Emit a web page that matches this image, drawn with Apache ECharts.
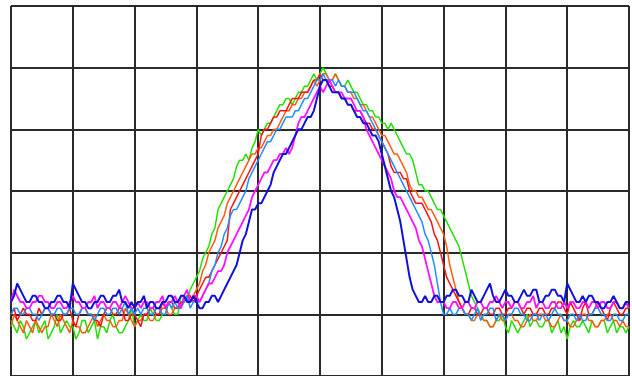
<!DOCTYPE html>
<html>
<head>
<meta charset="utf-8">
<script src="https://cdn.jsdelivr.net/npm/echarts@6/dist/echarts.min.js"></script>
<style>html,body{margin:0;padding:0;background:#fff;}#c{width:632px;height:376px;}</style>
</head>
<body>
<div id="c"></div>
<script>
// x positions: 0..100 in steps of 0.5 (10 divisions), y values: 0..60 (6 divisions)
const xs = Array.from({length: 201}, (_, i) => i * 0.5);
const green = [
9,8,7,9,8,6,7,8,9,7,8,9,6,7,8,10,7,8,9,8,
8,6,7,9,9,7,8,9,6,8,8,7,9,10,8,7,7,8,9,11,
8,9,10,9,9,11,10,9,9,10,10,12,11,10,10,13,13,12,14,15,
16,17,19,20,21,23,24,27,28,29,30,31,32,34,35,35,36,35,37,38,
40,39,40,41,41,42,43,44,44,45,45,44,45,46,46,47,47,48,49,48,
49,50,49,48,48,49,48,47,47,48,47,46,46,45,44,44,43,43,42,42,
41,41,40,41,40,39,38,37,36,36,35,33,31,31,30,30,29,28,27,27,
26,25,24,23,22,21,19,17,15,13,12,11,10,9,9,8,8,9,9,10,
8,7,9,8,7,8,9,10,8,9,9,8,8,9,9,7,8,9,7,8,
6,8,9,8,8,9,8,7,9,8,8,9,9,7,8,9,7,8,8,7,8];
const orange = [
8,10,9,8,7,9,8,7,9,8,7,8,8,10,9,8,10,9,8,7,
9,8,8,7,7,8,9,10,8,9,10,9,9,8,8,9,9,11,10,9,
8,9,9,10,10,9,9,10,10,11,11,10,10,11,11,12,12,13,12,13,
14,15,17,18,20,21,22,24,25,26,28,29,30,31,32,33,34,35,36,36,
37,37,38,39,39,40,40,41,42,43,43,44,44,45,45,46,46,47,48,47,
48,49,49,48,48,49,48,47,47,46,46,45,45,44,44,43,42,42,41,40,
39,39,38,37,36,36,35,34,33,31,30,30,29,29,28,27,27,26,25,24,
23,21,18,16,14,12,11,10,10,9,9,10,10,9,9,8,8,9,10,9,
9,10,10,9,9,8,8,9,10,9,9,10,10,9,9,8,8,9,10,9,
9,8,8,9,9,10,10,9,9,8,8,9,9,10,10,9,9,8,9,8,8];
const red = [
10,11,9,10,11,10,10,9,9,11,10,11,11,10,10,9,9,10,10,11,
9,8,10,11,11,10,10,9,9,8,10,11,11,10,10,11,11,9,9,10,
10,9,8,10,10,11,11,10,10,12,11,12,12,11,11,12,12,13,13,12,
13,14,15,16,16,17,18,19,20,21,22,27,28,29,30,31,32,33,34,35,
36,39,40,40,41,42,42,43,43,43,44,45,45,45,46,46,46,47,48,48,
49,48,48,47,47,46,46,45,45,44,44,43,43,43,42,41,41,40,40,39,
38,37,36,34,33,33,33,32,32,30,29,28,28,28,27,26,25,23,22,20,
18,16,15,14,13,12,11,10,10,11,11,10,10,11,11,10,10,11,11,10,
10,11,11,12,12,11,10,11,11,10,10,11,11,10,10,11,11,12,12,11,
10,12,11,10,9,11,12,10,10,11,12,11,10,9,11,12,11,10,10,11,11];
const dodger = [
10,11,11,10,10,11,11,10,10,9,10,11,11,10,10,11,11,10,10,11,
11,10,10,11,11,10,10,9,10,11,11,10,10,11,11,10,11,12,10,11,
10,11,10,11,11,10,10,11,11,10,10,12,11,12,11,11,12,13,11,12,
12,12,13,14,15,17,18,20,21,23,24,26,27,27,28,29,30,32,33,34,
35,36,37,38,38,39,40,40,41,42,42,42,43,43,44,45,45,46,47,48,
48,49,48,48,48,47,48,47,47,46,46,46,45,44,43,43,42,41,40,39,
38,37,36,35,34,33,32,31,30,29,28,27,26,25,23,22,20,18,15,12,
10,10,11,10,10,11,11,10,10,9,10,11,9,10,10,11,11,9,10,10,
9,10,10,11,11,10,10,9,9,10,10,9,10,10,9,10,11,10,10,9,
9,10,10,9,10,9,9,10,10,11,11,10,10,9,9,10,10,9,9,10,10];
const magenta = [
12,14,13,12,12,11,11,12,12,13,13,12,12,11,11,12,12,11,11,12,
13,12,12,11,11,12,12,13,11,12,12,11,11,12,12,11,12,13,12,11,
11,12,11,12,12,11,11,12,12,13,11,12,12,13,12,11,13,14,12,13,
13,12,13,14,15,15,16,17,17,18,20,21,22,23,24,25,26,27,29,30,
31,32,33,33,34,35,35,36,36,37,36,37,39,41,42,42,43,44,45,46,
47,46,47,48,47,46,46,46,45,45,45,44,43,43,42,40,39,38,37,36,
35,34,33,32,30,29,29,28,27,26,25,24,22,21,19,17,15,13,12,12,
12,11,11,12,12,11,11,12,12,11,11,12,12,11,11,12,12,13,12,11,
12,12,11,12,12,11,11,12,12,13,11,12,12,11,11,12,12,11,11,12,
11,12,12,11,11,12,12,11,12,12,11,12,12,11,11,12,12,11,11,12,11];
const blue = [
12,13,15,14,13,12,12,13,13,12,12,11,11,12,12,13,13,12,12,11,
15,14,13,12,12,11,11,12,12,13,13,12,12,13,13,14,12,12,11,12,
11,12,12,13,11,12,12,11,11,12,12,13,13,12,12,13,13,12,12,13,
12,11,11,12,12,13,13,12,13,14,15,16,17,18,20,22,23,25,27,27,
28,28,29,30,31,33,34,35,36,36,37,38,39,40,40,41,42,42,43,45,
47,48,48,47,46,46,46,45,45,44,44,43,42,42,41,41,40,39,39,38,
36,34,32,30,29,27,25,22,19,16,14,13,12,12,13,12,12,13,13,12,
12,13,13,14,14,13,13,12,12,14,13,12,12,13,14,15,13,12,12,13,
14,13,13,12,12,13,14,13,13,14,14,12,12,13,13,14,14,13,13,12,
15,14,13,12,12,13,12,13,13,12,12,11,11,12,12,13,12,11,11,12,12];

const seriesDefs = [
  {name: 'green', data: green, color: '#22e000', width: 1.5},
  {name: 'orange', data: orange, color: '#ff5a10', width: 1.5},
  {name: 'red', data: red, color: '#ff1010', width: 1.5},
  {name: 'dodger', data: dodger, color: '#1e8cff', width: 1.5},
  {name: 'magenta', data: magenta, color: '#ff10ff', width: 1.8},
  {name: 'blue', data: blue, color: '#1010d8', width: 2}
];

const chart = echarts.init(document.getElementById('c'), null, {renderer: 'canvas'});
const gridLine = {show: true, lineStyle: {color: '#2a2a2a', width: 2}};
chart.setOption({
  animation: false,
  backgroundColor: '#ffffff',
  grid: {left: 11, right: 3, top: 6, bottom: -1, containLabel: false},
  xAxis: {
    type: 'value', min: 0, max: 100, interval: 10,
    axisLine: {show: false}, axisTick: {show: false}, axisLabel: {show: false},
    splitLine: gridLine
  },
  yAxis: {
    type: 'value', min: 0, max: 60, interval: 10,
    axisLine: {show: false}, axisTick: {show: false}, axisLabel: {show: false},
    splitLine: gridLine
  },
  series: seriesDefs.map(s => ({
    name: s.name, type: 'line', showSymbol: false, symbol: 'none',
    data: xs.map((x, i) => [x, s.data[i]]),
    lineStyle: {color: s.color, width: s.width},
    itemStyle: {color: s.color}
  }))
});
</script>
</body>
</html>
